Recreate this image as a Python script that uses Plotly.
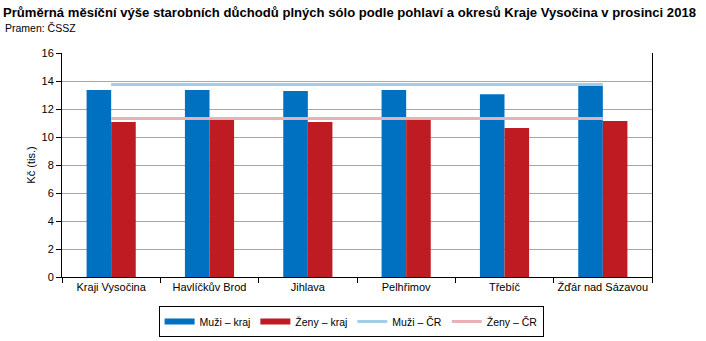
import plotly.graph_objects as go

categories = ["Kraji Vysočina", "Havlíčkův Brod", "Jihlava", "Pelhřimov", "Třebíč", "Žďár nad Sázavou"]
muzi_kraj = [13.35, 13.35, 13.28, 13.35, 13.06, 13.65]
zeny_kraj = [11.07, 11.22, 11.07, 11.22, 10.65, 11.15]
muzi_cr = [13.75] * 6
zeny_cr = [11.33] * 6

BLUE = "#0070C0"
RED = "#BE1B22"
LBLUE = "#A7CCE8"
PINK = "#E8B0B7"
FONT = "Liberation Sans, Arial, sans-serif"

fig = go.Figure()
fig.add_trace(go.Bar(x=categories, y=muzi_kraj, marker=dict(color=BLUE, line=dict(width=0)), name="Muži – kraj", showlegend=False))
fig.add_trace(go.Bar(x=categories, y=zeny_kraj, marker=dict(color=RED, line=dict(width=0)), name="Ženy – kraj", showlegend=False))
fig.add_trace(go.Scatter(x=categories, y=muzi_cr, mode="lines", line=dict(color=LBLUE, width=3), name="Muži – ČR", showlegend=False))
fig.add_trace(go.Scatter(x=categories, y=zeny_cr, mode="lines", line=dict(color=PINK, width=3), name="Ženy – ČR", showlegend=False))

# legend entries
for nm, col, w in [("Muži – kraj", BLUE, 6), ("Ženy – kraj", RED, 6), ("Muži – ČR", LBLUE, 3), ("Ženy – ČR", PINK, 3)]:
    fig.add_trace(go.Scatter(x=[None], y=[None], mode="lines", line=dict(color=col, width=w), name=nm, showlegend=True))

fig.update_layout(
    width=706, height=341,
    margin=dict(l=62, r=54, t=53, b=64, autoexpand=False),
    paper_bgcolor="white", plot_bgcolor="white",
    font=dict(family=FONT, size=11, color="black"),
    barmode="group", bargap=0.5, bargroupgap=0,
    title=dict(text="<b>Průměrná měsíční výše starobních důchodů plných sólo podle pohlaví a okresů Kraje Vysočina v prosinci 2018</b>",
               x=3/706, xanchor="left", xref="container", y=1-12/341, yanchor="middle", yref="container",
               font=dict(family=FONT, size=13.1, color="black")),
    annotations=[dict(text="Pramen: ČSSZ", xref="paper", yref="paper", x=(3-62)/590, y=1+(53-28)/224,
                      xanchor="left", yanchor="middle", showarrow=False, font=dict(family=FONT, size=10.5, color="black"))],
    legend=dict(orientation="h", x=0.49, xanchor="center", y=-29/224, yanchor="top",
                bordercolor="black", borderwidth=1, font=dict(family=FONT, size=10.5, color="black"),
                itemwidth=30, tracegroupgap=0),
    showlegend=True,
)
fig.update_xaxes(showline=True, linecolor="black", linewidth=1, ticks="outside", ticklen=5, tickcolor="black",
                 tickson="boundaries", showgrid=False, tickangle=0, tickfont=dict(family=FONT, size=11))
fig.update_yaxes(range=[0, 16], dtick=2, showline=True, linecolor="black", linewidth=1, mirror=True,
                 ticks="outside", ticklen=5, tickcolor="black", showgrid=True, gridcolor="#A6A6A6", gridwidth=1,
                 zeroline=False, title=dict(text="Kč (tis.)", standoff=3, font=dict(family=FONT, size=11)),
                 tickfont=dict(family=FONT, size=11))
fig.write_html("out.html")
